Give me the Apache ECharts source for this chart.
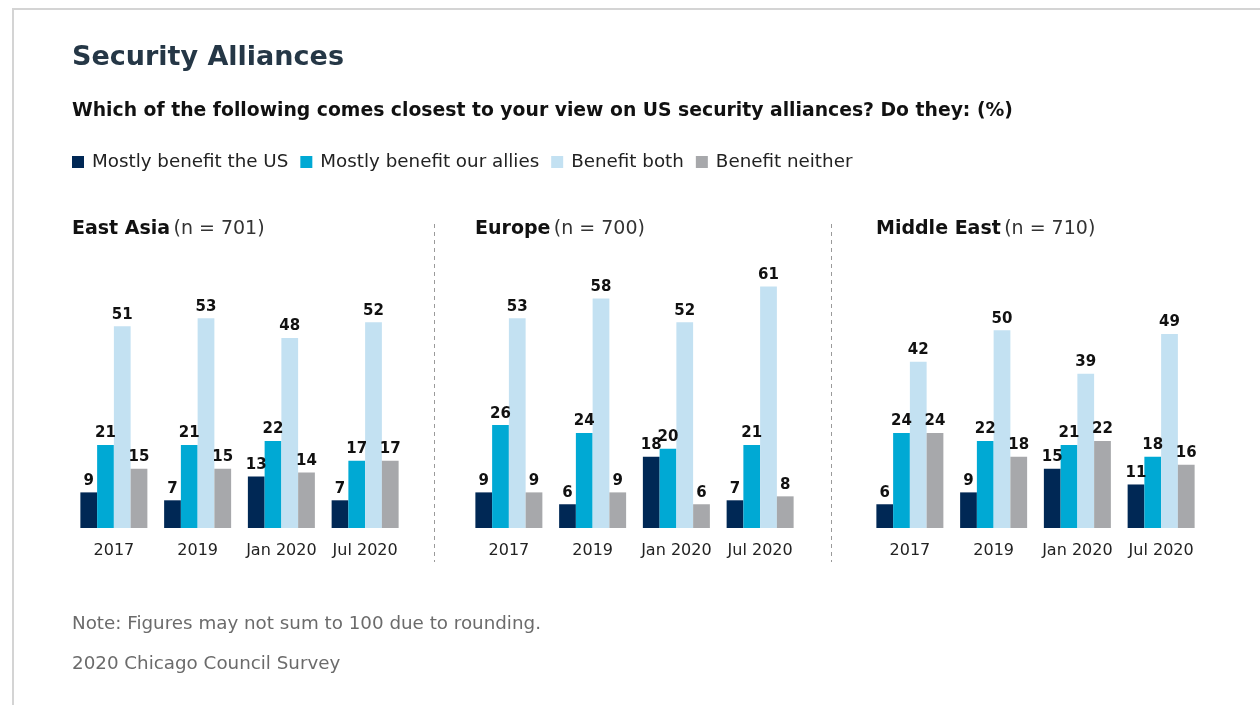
<!DOCTYPE html>
<html>
<head>
<meta charset="utf-8">
<script src="https://cdn.jsdelivr.net/npm/echarts@6/dist/echarts.min.js"></script>
<style>
  html, body { margin: 0; padding: 0; background: #fff; }
  #chart { width: 1260px; height: 705px; }
</style>
</head>
<body>
<div id="chart"></div>
<script>
// Survey waves shown on every panel
const waves = ['2017', '2019', 'Jan 2020', 'Jul 2020'];

// Response options (legend order)
const responses = ['Mostly benefit the US', 'Mostly benefit our allies', 'Benefit both', 'Benefit neither'];
const colors = ['#002855', '#00a9d4', '#c3e1f2', '#a7a8ab'];

// Regional panels
const regions = ['East Asia', 'Europe', 'Middle East'];
const sampleSizes = ['n = 701', 'n = 700', 'n = 710'];

// East Asia (%)
const eastAsiaUS      = [9, 7, 13, 7];
const eastAsiaAllies  = [21, 21, 22, 17];
const eastAsiaBoth    = [51, 53, 48, 52];
const eastAsiaNeither = [15, 15, 14, 17];

// Europe (%)
const europeUS      = [9, 6, 18, 7];
const europeAllies  = [26, 24, 20, 21];
const europeBoth    = [53, 58, 52, 61];
const europeNeither = [9, 9, 6, 8];

// Middle East (%)
const middleEastUS      = [6, 9, 15, 11];
const middleEastAllies  = [24, 22, 21, 18];
const middleEastBoth    = [42, 50, 39, 49];
const middleEastNeither = [24, 18, 22, 16];

const panelData = [
  [eastAsiaUS, eastAsiaAllies, eastAsiaBoth, eastAsiaNeither],
  [europeUS, europeAllies, europeBoth, europeNeither],
  [middleEastUS, middleEastAllies, middleEastBoth, middleEastNeither]
];

const FONT = '"DejaVu Sans", "Noto Sans", sans-serif';
const gridLefts = [72, 467, 868];
const gridWidth = 335;
const gridTop = 251;
const gridHeight = 277;

const grids = [], xAxes = [], yAxes = [], series = [];
panelData.forEach((panel, p) => {
  grids.push({ left: gridLefts[p], top: gridTop, width: gridWidth, height: gridHeight, containLabel: false });
  xAxes.push({
    type: 'category', gridIndex: p, data: waves,
    axisLine: { show: false }, axisTick: { show: false },
    axisLabel: { color: '#222', fontSize: 16, fontFamily: FONT, margin: 15, interval: 0, hideOverlap: false }
  });
  yAxes.push({ type: 'value', gridIndex: p, min: 0, max: 70, show: false, splitLine: { show: false } });
  panel.forEach((vals, s) => {
    series.push({
      type: 'bar', name: responses[s], xAxisIndex: p, yAxisIndex: p,
      data: vals, barGap: '0%', barCategoryGap: '20%',
      itemStyle: { color: colors[s] },
      label: {
        show: true, position: 'top', distance: 4,
        color: '#111', fontWeight: 'bold', fontSize: 15, fontFamily: FONT
      },
      emphasis: { disabled: true },
      animation: false
    });
  });
});

const graphics = [
  // frame lines
  { type: 'rect', shape: { x: 12, y: 8, width: 1260, height: 2 }, style: { fill: '#d4d4d4' } },
  { type: 'rect', shape: { x: 12, y: 8, width: 2, height: 700 }, style: { fill: '#d4d4d4' } },
  // panel dividers
  { type: 'line', shape: { x1: 434.5, y1: 224, x2: 434.5, y2: 562 },
    style: { stroke: '#9a9a9a', lineWidth: 1, lineDash: [4, 4] } },
  { type: 'line', shape: { x1: 831.5, y1: 224, x2: 831.5, y2: 562 },
    style: { stroke: '#9a9a9a', lineWidth: 1, lineDash: [4, 4] } },
  // headings
  { type: 'text', left: 72, top: 44,
    style: { text: 'Security Alliances', fill: '#253746', font: 'bold 27px ' + FONT } },
  { type: 'text', left: 72, top: 102,
    style: { text: 'Which of the following comes closest to your view on US security alliances? Do they: (%)',
             fill: '#111', font: 'bold 18.8px ' + FONT } },
  // footnotes
  { type: 'text', left: 72, top: 615,
    style: { text: 'Note: Figures may not sum to 100 due to rounding.', fill: '#6b6b6b', font: '18.3px ' + FONT } },
  { type: 'text', left: 72, top: 655,
    style: { text: '2020 Chicago Council Survey', fill: '#6b6b6b', font: '18.3px ' + FONT } }
];

regions.forEach((r, p) => {
  graphics.push({
    type: 'text', left: gridLefts[p] + (p === 0 ? 0 : 8), top: 220,
    style: {
      text: '{b|' + r + '} {n|(' + sampleSizes[p] + ')}',
      rich: {
        b: { fontWeight: 'bold', fontSize: 19, fill: '#111', fontFamily: FONT },
        n: { fontSize: 19, fill: '#333', fontFamily: FONT }
      }
    }
  });
});

const chart = echarts.init(document.getElementById('chart'), null, { renderer: 'canvas' });
chart.setOption({
  animation: false,
  backgroundColor: '#fff',
  legend: {
    data: responses, left: 67, top: 148, icon: 'rect',
    itemWidth: 12, itemHeight: 12, itemGap: 12,
    textStyle: { color: '#222', fontSize: 18.3, fontFamily: FONT, padding: [0, 0, 0, 3] },
    selectedMode: false
  },
  grid: grids, xAxis: xAxes, yAxis: yAxes, series: series,
  graphic: graphics
});
</script>
</body>
</html>
